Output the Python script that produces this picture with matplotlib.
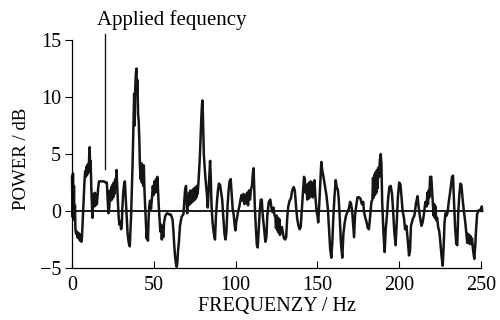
import matplotlib
matplotlib.use("Agg")
import matplotlib.pyplot as plt

plt.rcParams['font.family'] = ['Liberation Serif', 'DejaVu Serif']

# spectrum (Hz, dB)
freq = [0, 0.3, 0.6, 0.9, 1.2, 1.5, 1.8, 2.1, 2.5, 2.9, 3.3, 3.7, 4.1, 4.5, 4.9, 5.3, 5.7, 6.1, 6.5, 6.9,
        7.3, 7.7, 8.1, 8.5, 8.9, 9.3, 9.7, 10.1, 10.5, 10.8, 11.1, 11.4, 11.8, 12.2, 12.5, 12.8,
        13.2, 13.6, 14.0, 14.4, 14.8, 15.2, 15.6, 16.0, 16.5, 17.5, 18.5, 19.5, 20.5, 21.3, 21.8, 22.3, 22.8,
        23.2, 23.6, 24.0, 24.4, 24.8, 25.2, 25.6, 26.0, 26.4, 26.8, 27.2, 27.6, 28.0, 28.5, 29.0, 29.5,
        30.0, 30.4, 30.8, 31.3, 31.8, 32.3, 32.8, 33.2, 33.6, 34.0, 34.5, 35.0, 35.3, 35.7, 36.1, 36.5,
        37.0, 37.6, 38.0, 38.3, 38.7, 39.1, 39.4, 39.7, 40.0, 40.4, 40.8, 41.2, 41.5,
        41.9, 42.3, 42.7, 43.1, 43.5, 43.9, 44.3, 44.8, 45.2, 45.6, 46.0, 46.4, 46.8, 47.2, 47.7,
        48.3, 48.8, 49.4, 49.9, 50.4, 50.9, 51.4, 51.9, 52.2, 52.6, 53.0, 53.5, 54.0, 54.5, 54.9, 55.3,
        55.8, 56.3, 56.9, 57.5, 58.2, 58.9, 59.6, 60.3, 60.9, 61.5, 62.0, 62.5, 63.0, 63.5, 64.0, 64.4,
        64.8, 65.3, 66.0, 67.0, 68.1, 68.6, 69.1, 69.7, 70.1,
        70.4, 70.8, 71.2, 71.6, 72.0, 72.4, 72.8, 73.2, 73.6, 74.0, 74.4, 74.8, 75.2, 75.6, 76.0, 76.4,
        76.8, 77.2, 77.7, 78.2, 78.6, 79.0, 79.4, 79.7, 80.0, 80.3, 80.6, 81.0, 81.5, 82.0, 82.5, 83.0,
        83.5, 84.0, 84.4, 84.8, 85.3, 85.8, 86.5, 87.4, 88.0, 88.6, 89.2, 89.8, 90.5, 91.2, 91.8, 92.5,
        93.2, 93.8, 94.4, 95.0, 95.6, 96.3, 97.0, 97.6, 98.2,
        98.8, 99.4, 99.9, 100.4, 101.0, 101.6, 102.3, 103.0, 103.6, 104.2, 104.8, 105.4, 106.0, 106.6,
        107.0, 107.6, 108.2, 108.8, 109.4, 110.0, 110.6, 111.0, 111.4, 111.8, 112.4, 113.0, 113.5, 114.0,
        114.7, 115.4, 116.0, 116.6, 117.4, 118.2, 118.8, 119.4, 120.3, 121.2, 122.0, 122.6, 123.2, 123.8,
        124.3, 124.7, 125.1, 125.5, 125.9, 126.3, 126.7, 127.1, 127.6, 128.3, 129.0, 129.6, 130.3, 130.9,
        131.6, 132.2, 133.0, 133.8, 134.6, 135.5, 136.2, 136.9, 137.6, 138.4, 139.2, 139.8, 140.4, 141.2,
        141.8, 142.3, 142.8, 143.3, 143.8, 144.3, 144.7, 145.1, 145.5, 145.9, 146.3, 146.7, 147.2, 147.7,
        148.2, 148.8, 149.5, 150.0, 150.5, 151.1, 151.7, 152.4, 153.0, 153.6, 154.5, 155.5, 156.4, 157.1,
        157.8, 158.5, 159.1, 159.7, 160.4, 161.2, 161.9, 162.5, 163.0, 163.7, 164.4, 165.2, 165.9, 166.7,
        167.5, 168.3, 169.2, 170.0, 170.6, 171.3, 172.4, 173.0, 173.7, 174.5, 175.4, 176.3, 177.2, 178.0,
        178.5, 179.3, 180.1, 180.8, 181.5, 182.3, 183.0, 183.6, 184.0, 184.4, 184.8, 185.2, 185.6, 186.0,
        186.4, 186.8, 187.2, 187.7, 188.2, 188.7, 189.1, 189.6, 190.4, 191.1, 191.8, 192.5, 193.3, 194.0,
        194.8, 195.6, 196.2, 197.0, 197.8,
        198.5, 199.2, 200.0, 200.8, 201.4, 202.1, 202.9, 203.6, 204.4, 205.2, 206.0, 206.6, 207.2, 208.3,
        209.3, 210.3, 211.2, 212.0, 212.8, 213.6, 214.3, 215.0, 216.0, 216.8, 217.2, 217.6, 218.0, 218.4,
        218.9, 219.6, 220.2, 220.6, 221.0, 221.4, 221.8, 222.2, 222.6, 223.2, 223.8, 224.5, 225.2, 225.9,
        226.6, 227.2, 227.7, 228.3, 229.0, 229.6, 230.2, 230.8, 231.6, 232.3, 232.9, 233.5, 234.2, 234.9,
        235.5, 236.1, 236.8, 237.4, 238.0, 238.8, 239.6, 240.4, 241.1, 241.6, 242.0, 242.4, 242.8, 243.2,
        243.6, 244.0, 244.5, 245.2, 245.9, 246.5, 247.0, 247.6, 248.3, 249.0, 250.0, 250.5, 250.7]

power = [3.0, -0.5, 3.3, -0.7, 2.2, -0.8, 0.5, -1.6, -2.0, -1.8, -2.3, -1.9, -2.4, -2.0, -2.6, -2.1, -2.7, -2.3, -1.0, 0.2,
         1.5, 2.8, 3.5, 3.0, 3.9, 3.2, 4.1, 3.4, 4.8, 5.6, 3.8, 4.4, 2.0, 0.6, -0.6, 0.5,
         1.5, 0.4, 1.6, 0.5, 1.4, 0.6, 1.3, 2.0, 2.6, 2.6, 2.6, 2.6, 2.5, 2.5, 1.0, -0.2, 0.3,
         1.8, 0.9, 2.1, 1.0, 2.3, 1.2, 2.5, 1.5, 2.8, 2.0, 3.6, 2.2, 1.0, -0.5, -1.2, -0.9,
         -1.6, -1.3, 0.3, 1.6, 2.3, 2.6, 1.2, 0.0, -1.0, -2.0, -2.6, -3.0, -3.1, -1.8, -0.5, 1.5,
         4.0, 8.0, 10.3, 7.5, 11.0, 12.2, 12.5, 10.5, 11.5, 8.5, 7.8, 6.0, 4.0,
         2.8, 4.2, 2.5, 4.0, 2.2, 4.0, 1.8, 0.2, -1.0, -2.4, -1.5, -2.6, -0.8, 0.4, 0.9,
         0.2, 1.0, 2.2, 1.4, 2.6, 1.6, 2.8, 2.0, 3.0, 1.8, 0.5, -0.6, -1.8, -1.2, -2.5, -1.6,
         -2.3, -1.0, -0.5, -0.3, -0.2, -0.25, -0.3, -0.3, -0.5, -0.8, -1.8, -3.0, -4.0, -4.6, -4.9, -4.5,
         -3.5, -2.8, -1.3, -0.5, -0.3, 0.8, 1.8, 2.2, 1.0,
         -0.2, 1.2, 0.5, 1.6, 0.6, 1.8, 0.7, 1.7, 0.8, 1.9, 0.9, 2.0, 1.0, 2.1, 1.2, 2.2,
         1.5, 2.3, 3.5, 4.9, 6.5, 8.0, 9.2, 9.7, 8.5, 6.5, 4.9, 4.0, 3.0, 2.2, 1.4, 0.3,
         1.8, 3.5, 4.4, 3.0, 0.5, -0.8, -1.8, -2.5, -0.4, 0.8, 1.8, 2.4, 2.3, 1.6, 1.0, -0.6,
         -2.0, -2.5, -1.8, 0.2, 1.6, 2.6, 2.8, 1.5, 0.2,
         -0.3, -1.2, -1.7, -1.0, -0.5, 0.0, 0.4, 1.0, 1.4, 0.9, 1.5, 0.6, 1.4, 0.7,
         1.6, 0.5, 1.8, 1.0, 1.9, 2.2, 3.4, 3.75, 2.0, 0.2, -1.5, -3.0, -3.2, -2.0,
         -0.1, 1.0, 1.0, -0.4, -1.5, -2.7, -2.3, -0.4, 0.8, 1.0, 0.2, -0.1, 0.3, -0.4,
         -0.5, -1.5, -0.4, -1.7, -0.6, -1.9, -0.7, -2.1, -1.7, -1.4, -2.0, -2.4, -2.5, -2.3,
         -0.5, 0.4, 0.9, 1.1, 1.8, 2.1, 1.8, 0.5, -0.6, -1.3, -1.6, -1.4, -0.1, 1.5,
         3.0, 2.8, 1.6, 2.2, 1.0, 2.4, 1.1, 2.5, 1.2, 2.6, 1.4, 2.5, 1.2, 2.3,
         2.7, 1.2, 0.0, -0.4, -1.0, 0.5, 2.3, 4.3, 3.5, 3.1, 2.3, 1.4, 0.2, -1.5,
         -3.3, -4.1, -2.8, -0.7, 1.2, 2.7, 2.0, 1.9, 1.1, -0.7, -2.8, -4.1, -2.0, -1.0,
         -0.4, -0.1, 0.2, 0.8, 0.6, -0.1, -2.3, -0.4, 0.4, 1.2, 1.2, 1.1, 0.6, 0.8,
         -0.1, -0.6, -1.0, -1.5, -1.6, -0.4, 0.8, 1.0, 2.9, 1.2, 3.2, 1.4, 3.4, 1.6,
         3.6, 2.0, 3.8, 3.0, 4.5, 5.0, 4.2, 0.8, -2.0, -3.6, -1.5, -0.4, 1.2, 2.1,
         2.2, 1.5, 0.2, -1.8, -3.0,
         -1.0, 1.2, 2.5, 2.3, 1.2, 0.0, -0.6, -1.6, -1.3, -2.5, -3.9, -3.5, -1.3, -0.7,
         -0.4, 0.7, 1.3, 0.2, -0.6, -1.3, -1.0, -0.4, 0.8, 0.4, 1.6, 0.6, 1.8, 1.2,
         3.0, 3.0, 1.6, 0.6, -0.4, 0.6, -0.6, 0.4, -0.8, -0.6, -1.4, -1.8, -2.8, -4.0,
         -4.8, -3.0, -1.0, -0.2, -0.4, -0.1, 0.7, 1.3, 2.2, 3.0, 3.1, 0.8, -1.5, -2.9,
         -3.0, -0.1, 1.5, 2.4, 2.3, 1.0, -0.1, -1.0, -2.0, -2.8, -2.0, -2.8, -2.1, -2.9,
         -2.2, -2.9, -2.4, -3.5, -4.2, -3.0, -1.6, -0.3, 0.0, 0.1, 0.1, 0.4, 0.0]

xticks = [0, 50, 100, 150, 200, 250]
yticks = [-5, 0, 5, 10, 15]
marker_freq = 20

fig = plt.figure(figsize=(5, 3.2), dpi=100)
ax = fig.add_axes([0.144, 0.1625, 0.818, 0.7125])

ax.axhline(0, color='#1a1a1a', lw=1.4, zorder=1)
ax.plot(freq, power, color='#151515', lw=1.8, clip_on=False, zorder=2)

# marker for the applied frequency
ax.plot([marker_freq, marker_freq], [3.7, 15.5], color='#1a1a1a', lw=1.0, clip_on=False)
ax.text(15.1, 16.3, 'Applied fequency', fontsize=15, va='baseline', ha='left')

ax.set_xlim(0, 250)
ax.set_ylim(-5, 15)
ax.set_xticks(xticks)
ax.set_yticks(yticks)
ax.set_yticklabels(['\u22125', '0', '5', '10', '15'])
ax.tick_params(axis='x', direction='in', length=5, labelsize=14.5, pad=6)
ax.tick_params(axis='y', direction='out', length=5, labelsize=14.5, pad=3)
for s in ['top', 'right']:
    ax.spines[s].set_visible(False)
for s in ['left', 'bottom']:
    ax.spines[s].set_linewidth(0.9)

ax.set_xlabel('FREQUENZY / Hz', fontsize=14.5, labelpad=1)
ax.set_ylabel('POWER / dB', fontsize=13.5)
ax.yaxis.set_label_coords(-0.103, 0.478)

fig.savefig('out.png', dpi=100)
